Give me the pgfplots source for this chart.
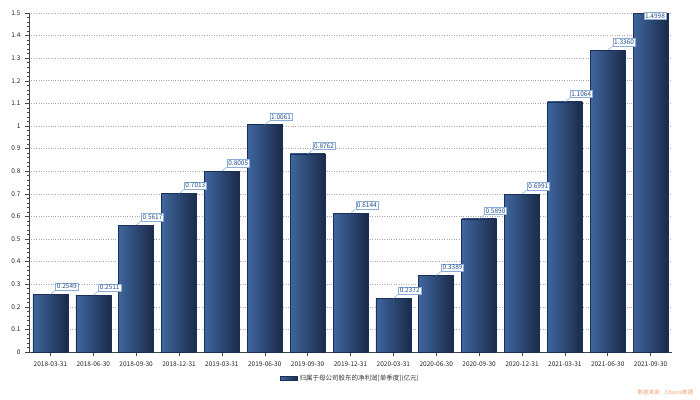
\documentclass[border=0pt]{standalone}
\usepackage{pgfplots}
\pgfplotsset{compat=1.18}
\usepackage{fontspec}
\setmainfont{Noto Sans CJK SC}
\definecolor{barL}{HTML}{3F669E}
\definecolor{barR}{HTML}{1B2A48}
\definecolor{barE}{HTML}{1A2E58}
\definecolor{labtxt}{HTML}{1F4F8F}
\definecolor{labbd}{HTML}{8AAED8}
\definecolor{axc}{HTML}{444444}
\definecolor{gridc}{HTML}{AAAAAA}
\definecolor{src}{HTML}{F2A06A}
\pgfplotsset{barsty/.style={left color=barL, right color=barR, draw=barE, line width=0.5pt}}
\begin{document}
\begin{tikzpicture}[x=1pt,y=1pt]
\begin{axis}[
  at={(0,0)}, anchor=south west,
  scale only axis, width=643pt, height=339pt,
  xmin=-0.5, xmax=14.5, ymin=0, ymax=1.5,
  ybar, bar width=35pt, bar shift=0pt,
  axis lines*=left,
  axis line style={axc, line width=0.6pt},
  xtick={0,...,14},
  xticklabels={2018-03-31,2018-06-30,2018-09-30,2018-12-31,2019-03-31,2019-06-30,2019-09-30,2019-12-31,2020-03-31,2020-06-30,2020-09-30,2020-12-31,2021-03-31,2021-06-30,2021-09-30},
  ytick={0,0.1,...,1.5},
  minor y tick num=4,
  tick align=outside,
  major tick length=4pt, minor tick length=2pt,
  tick style={axc, line width=0.5pt},
  ymajorgrids,
  major grid style={gridc, dotted, line width=0.6pt},
  tick label style={font=\fontsize{6.5}{7}\selectfont, text=black!85},
  yticklabel style={xshift=-1pt},
  xticklabel style={yshift=-2pt},
  /pgf/number format/assume math mode=true,
  yticklabel={\pgfmathprintnumber[fixed, precision=1]{\tick}},
  clip=false,
  legend style={at={(rel axis cs:0.5,0)}, anchor=north, yshift=-20pt, draw=none, fill=none,
    font=\fontsize{6.5}{7}\selectfont, text=black!80, inner sep=1pt},
  legend image code/.code={\fill[left color=barL, right color=barR] (0pt,-2pt) rectangle (17pt,2pt);},
]
\addplot[barsty] coordinates {(0,0.2549)};
\addlegendentry{归属于母公司股东的净利润[单季度](亿元)}
\addplot[barsty, forget plot] coordinates {(1,0.2511)};
\addplot[barsty, forget plot] coordinates {(2,0.5617)};
\addplot[barsty, forget plot] coordinates {(3,0.7013)};
\addplot[barsty, forget plot] coordinates {(4,0.8005)};
\addplot[barsty, forget plot] coordinates {(5,1.0061)};
\addplot[barsty, forget plot] coordinates {(6,0.8762)};
\addplot[barsty, forget plot] coordinates {(7,0.6144)};
\addplot[barsty, forget plot] coordinates {(8,0.2372)};
\addplot[barsty, forget plot] coordinates {(9,0.3389)};
\addplot[barsty, forget plot] coordinates {(10,0.5890)};
\addplot[barsty, forget plot] coordinates {(11,0.6991)};
\addplot[barsty, forget plot] coordinates {(12,1.1064)};
\addplot[barsty, forget plot] coordinates {(13,1.3360)};
\addplot[barsty, forget plot] coordinates {(14,1.4998)};
\addplot[draw=none, fill=none, forget plot,
  nodes near coords={\pgfmathprintnumber[fixed, fixed zerofill, precision=4]{\pgfplotspointmeta}},
  every node near coord/.style={font=\fontsize{6.5}{6.5}\selectfont, text=labtxt, fill=white, draw=labbd,
    line width=0.5pt, inner sep=1.2pt, anchor=south west, xshift=5pt, yshift=4pt,
    append after command={(\tikzlastnode.south west) edge[labbd, line width=0.5pt] ++(-5pt,-4pt)}}
] coordinates {
(0,0.2549) (1,0.2511) (2,0.5617) (3,0.7013) (4,0.8005) (5,1.0061) (6,0.8762) (7,0.6144)
(8,0.2372) (9,0.3389) (10,0.5890) (11,0.6991) (12,1.1064) (13,1.3360)};
\addplot[draw=none, fill=none, forget plot,
  nodes near coords={\pgfmathprintnumber[fixed, fixed zerofill, precision=4]{\pgfplotspointmeta}},
  every node near coord/.style={font=\fontsize{6.5}{6.5}\selectfont, text=labtxt, fill=white, draw=labbd,
    line width=0.5pt, inner sep=1.2pt, anchor=north west, xshift=-7pt, yshift=1pt}
] coordinates {(14,1.4998)};
\end{axis}
\node[anchor=east, font=\fontsize{5.5}{6}\selectfont, text=src] at (668pt,-40pt) {数据来源：Choice数据};
\path (-29pt,-47pt) rectangle (671pt,352pt);
\end{tikzpicture}
\end{document}
